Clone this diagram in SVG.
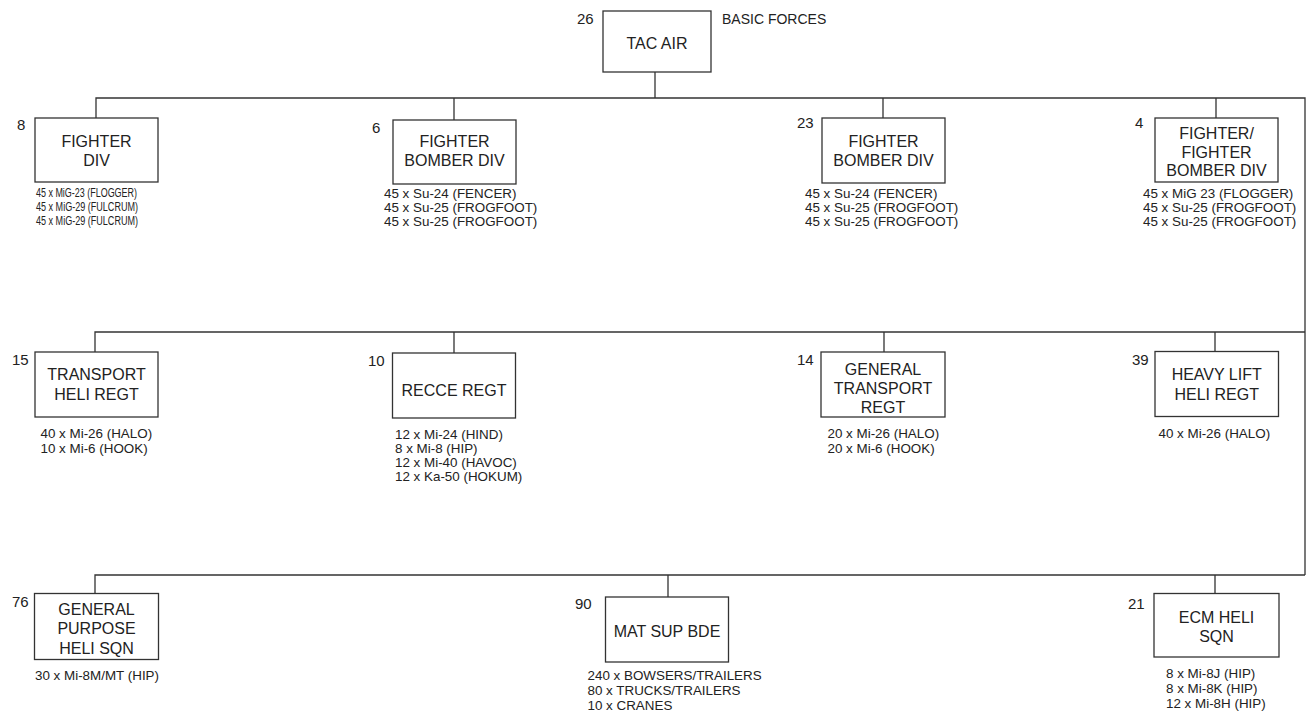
<svg xmlns="http://www.w3.org/2000/svg" width="1310" height="720" viewBox="0 0 1310 720">
<style>
  .box { fill: #fff; stroke: #333; stroke-width: 1.3; }
  .conn { fill: none; stroke: #333; stroke-width: 1.3; }
  .t { font-family: "Liberation Sans", Arial, sans-serif; font-size: 16px; fill: #222; text-anchor: middle; }
  .n { font-family: "Liberation Sans", Arial, sans-serif; font-size: 15px; fill: #222; }
  .d { font-family: "Liberation Sans", Arial, sans-serif; font-size: 13.4px; fill: #222; }
</style>
<rect width="1310" height="720" fill="#fff"/>
<g id="connectors">
  <path class="conn" d="M655 72 V98"/>
  <path class="conn" d="M96 118 V98 H1305 V575"/>
  <path class="conn" d="M454 120 V98 M883 118 V98 M1216 118 V98"/>
  <path class="conn" d="M95 352 V332 H1305"/>
  <path class="conn" d="M454 353 V332 M884 352 V332 M1215 351 V332"/>
  <path class="conn" d="M95 593 V575 H1305"/>
  <path class="conn" d="M668 597 V575 M1215 593 V575"/>
</g>
<g id="tac-air">
  <rect class="box" x="603" y="11" width="108" height="61"/>
  <text class="t" x="657" y="49">TAC AIR</text>
  <text class="n" x="577" y="23.7">26</text>
  <text class="n" x="722" y="23.5" style="font-size:14px">BASIC FORCES</text>
</g>
<g id="fighter-div-8">
  <rect class="box" x="35" y="118" width="123" height="64"/>
  <text class="t" x="96.5" y="147">FIGHTER</text>
  <text class="t" x="96.5" y="165.5">DIV</text>
  <text class="n" x="17" y="130.4">8</text>
  <text class="d" x="36" y="197" style="font-size:12px" textLength="101" lengthAdjust="spacingAndGlyphs">45 x MiG-23 (FLOGGER)</text>
  <text class="d" x="36" y="211" style="font-size:12px" textLength="102" lengthAdjust="spacingAndGlyphs">45 x MiG-29 (FULCRUM)</text>
  <text class="d" x="36" y="225" style="font-size:12px" textLength="102" lengthAdjust="spacingAndGlyphs">45 x MiG-29 (FULCRUM)</text>
</g>
<g id="fighter-bomber-div-6">
  <rect class="box" x="393" y="120" width="123" height="64"/>
  <text class="t" x="454.5" y="147">FIGHTER</text>
  <text class="t" x="454.5" y="165.5">BOMBER DIV</text>
  <text class="n" x="372" y="133.4">6</text>
  <text class="d" x="384" y="198">45 x Su-24 (FENCER)</text>
  <text class="d" x="384" y="212">45 x Su-25 (FROGFOOT)</text>
  <text class="d" x="384" y="226">45 x Su-25 (FROGFOOT)</text>
</g>
<g id="fighter-bomber-div-23">
  <rect class="box" x="822" y="118" width="123" height="65"/>
  <text class="t" x="883.5" y="146.5">FIGHTER</text>
  <text class="t" x="883.5" y="166">BOMBER DIV</text>
  <text class="n" x="797" y="128.4">23</text>
  <text class="d" x="805" y="198">45 x Su-24 (FENCER)</text>
  <text class="d" x="805" y="212">45 x Su-25 (FROGFOOT)</text>
  <text class="d" x="805" y="226">45 x Su-25 (FROGFOOT)</text>
</g>
<g id="fighter-bomber-div-4">
  <rect class="box" x="1155" y="118" width="123" height="64"/>
  <text class="t" x="1216.5" y="139">FIGHTER/</text>
  <text class="t" x="1216.5" y="157.5">FIGHTER</text>
  <text class="t" x="1216.5" y="176">BOMBER DIV</text>
  <text class="n" x="1135" y="128.4">4</text>
  <text class="d" x="1143" y="198">45 x MiG 23 (FLOGGER)</text>
  <text class="d" x="1143" y="212">45 x Su-25 (FROGFOOT)</text>
  <text class="d" x="1143" y="226">45 x Su-25 (FROGFOOT)</text>
</g>
<g id="transport-heli-regt-15">
  <rect class="box" x="35" y="352" width="123" height="65"/>
  <text class="t" x="96.5" y="379.7">TRANSPORT</text>
  <text class="t" x="96.5" y="399.5">HELI REGT</text>
  <text class="n" x="12" y="364.7">15</text>
  <text class="d" x="40.5" y="438">40 x Mi-26 (HALO)</text>
  <text class="d" x="40.5" y="452.5">10 x Mi-6 (HOOK)</text>
</g>
<g id="recce-regt-10">
  <rect class="box" x="392.5" y="353" width="123" height="65"/>
  <text class="t" x="454" y="396.4">RECCE REGT</text>
  <text class="n" x="368" y="366">10</text>
  <text class="d" x="395" y="438.7">12 x Mi-24 (HIND)</text>
  <text class="d" x="395" y="452.7">8 x Mi-8 (HIP)</text>
  <text class="d" x="395" y="466.7">12 x Mi-40 (HAVOC)</text>
  <text class="d" x="395" y="480.7">12 x Ka-50 (HOKUM)</text>
</g>
<g id="general-transport-regt-14">
  <rect class="box" x="821" y="352" width="124" height="65"/>
  <text class="t" x="883" y="375">GENERAL</text>
  <text class="t" x="883" y="394">TRANSPORT</text>
  <text class="t" x="883" y="413.4">REGT</text>
  <text class="n" x="797" y="364.7">14</text>
  <text class="d" x="827.5" y="438">20 x Mi-26 (HALO)</text>
  <text class="d" x="827.5" y="452.5">20 x Mi-6 (HOOK)</text>
</g>
<g id="heavy-lift-heli-regt-39">
  <rect class="box" x="1155" y="351.5" width="123.5" height="65"/>
  <text class="t" x="1216.7" y="379.7">HEAVY LIFT</text>
  <text class="t" x="1216.7" y="399.5">HELI REGT</text>
  <text class="n" x="1132" y="364.7">39</text>
  <text class="d" x="1158.5" y="438">40 x Mi-26 (HALO)</text>
</g>
<g id="general-purpose-heli-sqn-76">
  <rect class="box" x="34.5" y="593.5" width="124" height="66"/>
  <text class="t" x="96.5" y="615">GENERAL</text>
  <text class="t" x="96.5" y="634">PURPOSE</text>
  <text class="t" x="96.5" y="654">HELI SQN</text>
  <text class="n" x="12" y="607">76</text>
  <text class="d" x="35" y="680">30 x Mi-8M/MT (HIP)</text>
</g>
<g id="mat-sup-bde-90">
  <rect class="box" x="605.5" y="597" width="123" height="65"/>
  <text class="t" x="667" y="637.4">MAT SUP BDE</text>
  <text class="n" x="575" y="609.4">90</text>
  <text class="d" x="587.5" y="680">240 x BOWSERS/TRAILERS</text>
  <text class="d" x="587.5" y="695">80 x TRUCKS/TRAILERS</text>
  <text class="d" x="587.5" y="710">10 x CRANES</text>
</g>
<g id="ecm-heli-sqn-21">
  <rect class="box" x="1154" y="593.5" width="125" height="63.5"/>
  <text class="t" x="1216.5" y="623">ECM HELI</text>
  <text class="t" x="1216.5" y="642.4">SQN</text>
  <text class="n" x="1128" y="608.7">21</text>
  <text class="d" x="1166" y="678">8 x Mi-8J (HIP)</text>
  <text class="d" x="1166" y="693">8 x Mi-8K (HIP)</text>
  <text class="d" x="1166" y="708">12 x Mi-8H (HIP)</text>
</g>
</svg>
